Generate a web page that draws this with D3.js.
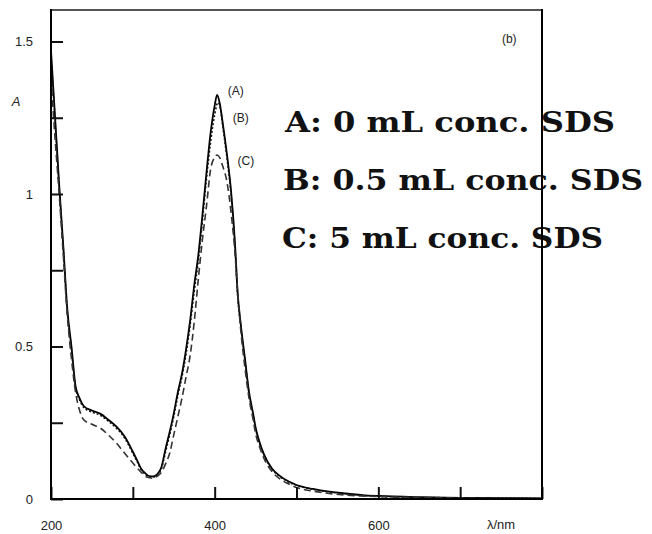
<!DOCTYPE html>
<html>
<head>
<meta charset="utf-8">
<script src="https://cdn.jsdelivr.net/npm/d3@7"></script>
<style>
  html, body { margin: 0; padding: 0; background: #fff; overflow: hidden; }
  svg { display: block; }
</style>
</head>
<body>
<svg id="chart" width="652" height="534"></svg>
<script>
// ---- data (wavelength in nm, absorbance) ----
const wavelengthsA = [200,205,210,215,220,225,230,235,240,250,260,270,280,290,300,305,310,315,320,325,330,335,340,345,350,355,360,365,370,375,380,385,390,395,400,403,406,410,415,420,425,428,432,437,442,447,450,455,460,470,480,490,500,520,540,560,580,600,650,700,750,800];
const absorbanceA  = [1.47,1.25,1.03,0.83,0.62,0.50,0.37,0.33,0.305,0.29,0.28,0.26,0.237,0.205,0.155,0.128,0.10,0.085,0.075,0.074,0.082,0.105,0.165,0.22,0.28,0.35,0.41,0.49,0.585,0.70,0.80,0.93,1.07,1.20,1.29,1.325,1.30,1.23,1.13,1.01,0.83,0.68,0.57,0.46,0.35,0.28,0.235,0.185,0.148,0.10,0.075,0.058,0.046,0.033,0.024,0.018,0.013,0.010,0.006,0.004,0.003,0.002];

const wavelengthsB = [200,205,210,215,220,225,230,235,240,250,260,270,280,290,300,305,310,315,320,325,330,335,340,345,350,355,360,365,370,375,380,385,390,395,400,404,407,410,415,420,425,428,432,437,442,447,450,455,460,470,480,490,500,520,540,560,580,600,650,700,750,800];
const absorbanceB  = [1.45,1.24,1.02,0.82,0.61,0.49,0.365,0.325,0.30,0.285,0.275,0.255,0.232,0.20,0.15,0.124,0.097,0.082,0.073,0.072,0.080,0.10,0.155,0.21,0.27,0.34,0.40,0.475,0.57,0.68,0.78,0.91,1.05,1.17,1.26,1.30,1.28,1.22,1.12,1.00,0.82,0.67,0.565,0.455,0.345,0.275,0.23,0.18,0.145,0.098,0.073,0.056,0.045,0.032,0.023,0.017,0.012,0.009,0.005,0.004,0.003,0.002];

const wavelengthsC = [200,205,210,215,220,225,230,235,240,250,260,270,280,290,300,310,317,325,330,335,340,345,350,355,360,365,370,375,380,385,390,395,400,403,406,410,415,420,425,428,432,437,442,447,450,455,460,470,480,490,500,520,540,560,580,600,650,700,750,800];
const absorbanceC  = [1.38,1.18,1.00,0.80,0.60,0.46,0.35,0.29,0.26,0.245,0.233,0.21,0.183,0.15,0.118,0.088,0.072,0.068,0.075,0.088,0.115,0.15,0.21,0.27,0.33,0.40,0.47,0.58,0.72,0.85,0.96,1.08,1.12,1.128,1.12,1.09,1.04,0.94,0.80,0.68,0.55,0.43,0.33,0.26,0.215,0.17,0.135,0.09,0.065,0.05,0.038,0.026,0.018,0.013,0.010,0.008,0.005,0.003,0.002,0.001];

const xTicks = [200,300,400,500,600,700,800];
const xTickLabels = ["200","","400","","600","",""];
const yTicks = [0,0.25,0.5,0.75,1,1.25,1.5];
const yTickLabels = ["0","","0.5","","1","","1.5"];

const peakLabels = [
  {text:"(A)", x:416, y:1.34},
  {text:"(B)", x:422, y:1.25},
  {text:"(C)", x:428, y:1.11}
];
const legendLines = ["A: 0 mL conc. SDS","B: 0.5 mL conc. SDS","C: 5 mL conc. SDS"];

// ---- layout ----
const svg = d3.select("#chart");
const L = 51, R = 542, T = 10, B = 499;
const x = d3.scaleLinear().domain([200,800]).range([L,R]);
const y = d3.scaleLinear().domain([0,1.5]).range([B, B - 1.5*305]);

const mk = (ws, as) => ws.map((w,i)=>({w, a: as[i]}));
const series = [
  {data: mk(wavelengthsA, absorbanceA), dash: null, color:"#000", width:1.8},
  {data: mk(wavelengthsB, absorbanceB), dash: "2,2", color:"#111", width:1.6},
  {data: mk(wavelengthsC, absorbanceC), dash: "7,4", color:"#333", width:1.6}
];

const line = d3.line().x(d=>x(d.w)).y(d=>y(d.a)).curve(d3.curveMonotoneX);

svg.append("g").selectAll("path").data(series).join("path")
  .attr("d", s => line(s.data))
  .attr("fill","none")
  .attr("stroke", s=>s.color)
  .attr("stroke-width", s=>s.width)
  .attr("stroke-dasharray", s=>s.dash);

// legend text (drawn before frame so the frame line crosses it)
const legendY = [132, 190, 248];
const legendX = [285, 283, 282];
const legendW = [330, 360, 321];
svg.append("g").selectAll("text").data(legendLines).join("text")
  .attr("x",(d,i)=>legendX[i]).attr("y",(d,i)=>legendY[i])
  .attr("font-family","'DejaVu Serif', 'Liberation Serif', serif").attr("font-weight","600")
  .attr("font-size",27).attr("fill","#111")
  .attr("textLength",(d,i)=>legendW[i]).attr("lengthAdjust","spacingAndGlyphs")
  .text(d=>d);

// axes
const xAxis = d3.axisBottom(x).tickValues(xTicks)
  .tickFormat((d,i)=>xTickLabels[i]).tickSizeInner(-12).tickSizeOuter(0).tickPadding(22);
const gx = svg.append("g").attr("transform",`translate(0,${B})`).call(xAxis);
gx.select(".domain").remove();
gx.selectAll("line").attr("stroke","#111").attr("stroke-width",2);
gx.selectAll("text").attr("font-family","Liberation Sans, Arial, sans-serif").attr("font-size",13).attr("fill","#222");

const yAxis = d3.axisLeft(y).tickValues(yTicks)
  .tickFormat((d,i)=>yTickLabels[i]).tickSizeInner(-12).tickSizeOuter(0).tickPadding(18);
const gy = svg.append("g").attr("transform",`translate(${L},0)`).call(yAxis);
gy.select(".domain").remove();
gy.selectAll("line").attr("stroke","#111").attr("stroke-width",2);
gy.selectAll("text").attr("font-family","Liberation Sans, Arial, sans-serif").attr("font-size",13).attr("fill","#222");

// frame
svg.append("line").attr("x1",L).attr("x2",R).attr("y1",T).attr("y2",T).attr("stroke","#555").attr("stroke-width",2);
svg.append("line").attr("x1",R).attr("x2",R).attr("y1",T-1).attr("y2",B+1).attr("stroke","#000").attr("stroke-width",2);
svg.append("line").attr("x1",L).attr("x2",R+1).attr("y1",B).attr("y2",B).attr("stroke","#000").attr("stroke-width",2);
svg.append("line").attr("x1",L).attr("x2",L).attr("y1",T-1).attr("y2",B+1).attr("stroke","#000").attr("stroke-width",2);

// axis titles
svg.append("text").attr("x", x(750)).attr("y", B+30).attr("text-anchor","middle")
  .attr("font-family","Liberation Sans, Arial, sans-serif").attr("font-size",13).attr("fill","#222").text("λ/nm");
svg.append("text").attr("x", 16).attr("y", 106).attr("text-anchor","middle")
  .attr("font-family","Liberation Sans, Arial, sans-serif").attr("font-style","italic").attr("font-size",13).attr("fill","#222").text("A");
svg.append("text").attr("x", x(751)).attr("y", y(1.508)).attr("dy","0.35em")
  .attr("font-family","Liberation Sans, Arial, sans-serif").attr("font-size",12).attr("fill","#222").text("(b)");

// peak labels
svg.append("g").selectAll("text").data(peakLabels).join("text")
  .attr("x", d=>x(d.x)).attr("y", d=>y(d.y)).attr("dy","0.35em")
  .attr("font-family","Liberation Sans, Arial, sans-serif").attr("font-size",12).attr("fill","#222")
  .text(d=>d.text);
</script>
</body>
</html>
